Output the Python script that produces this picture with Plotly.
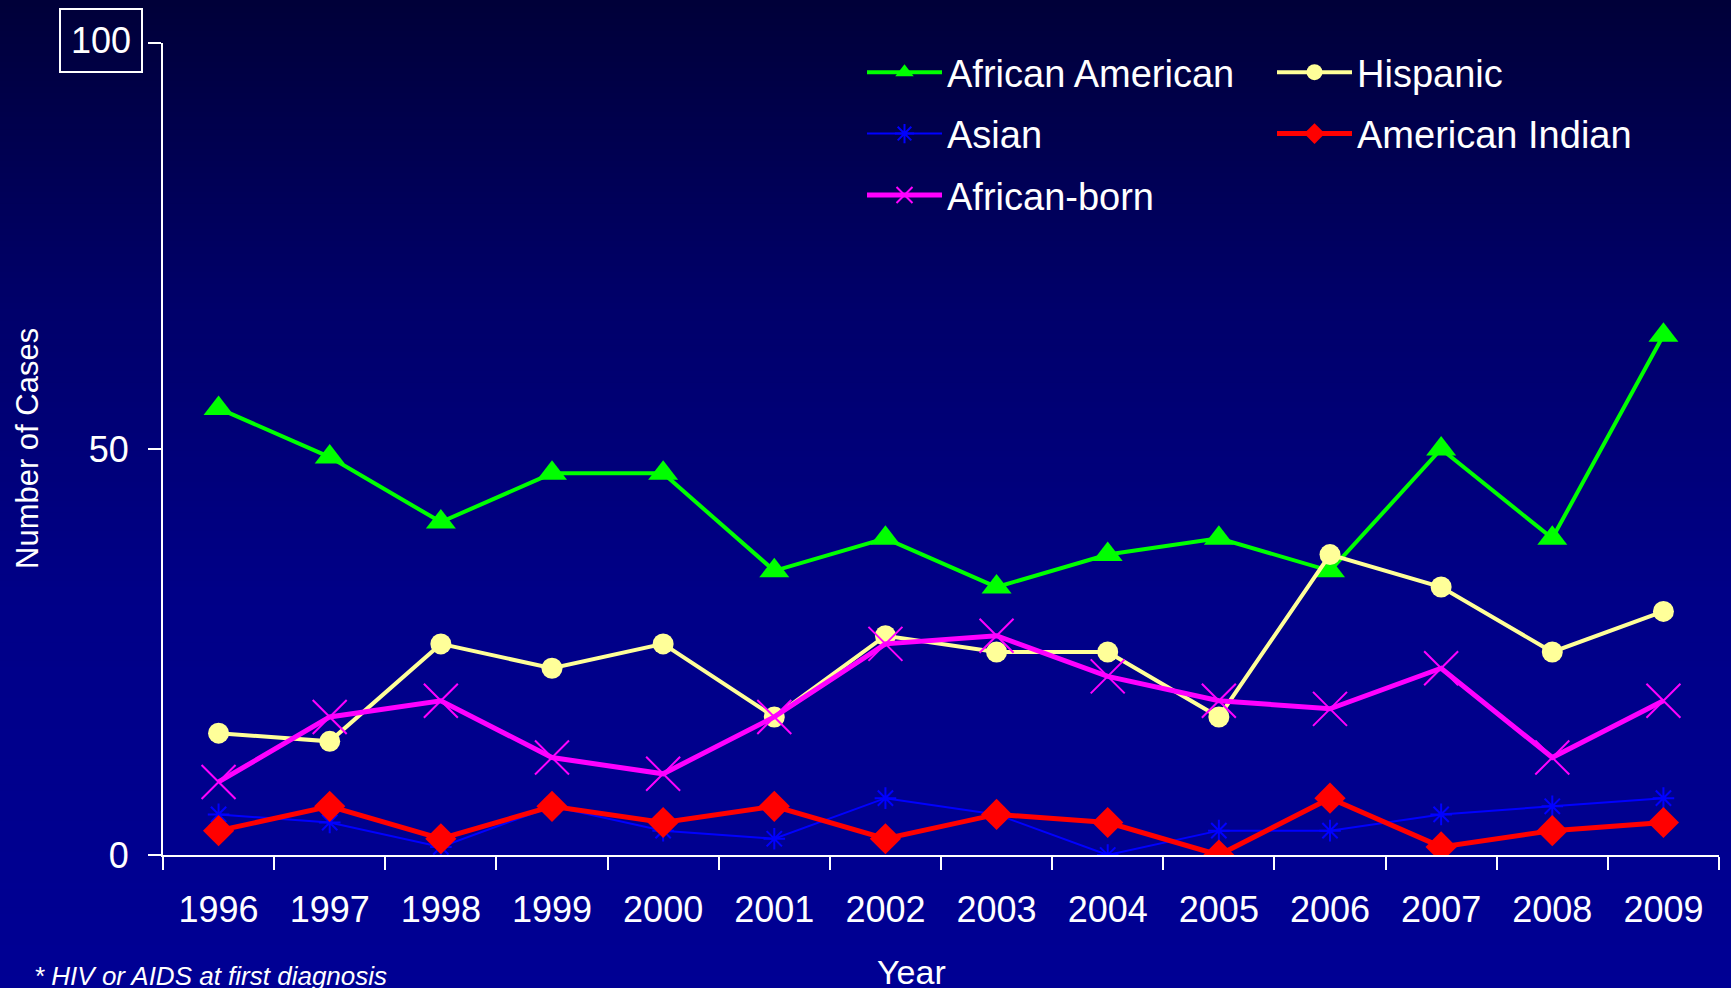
import plotly.graph_objects as go

# ---------------- data ----------------
years = [str(y) for y in range(1996, 2010)]
african_american = [55, 49, 41, 47, 47, 35, 39, 33, 37, 39, 35, 50, 39, 64]
hispanic = [15, 14, 26, 23, 26, 17, 27, 25, 25, 17, 37, 33, 25, 30]
asian = [5, 4, 1, 6, 3, 2, 7, 5, 0, 3, 3, 5, 6, 7]
american_indian = [3, 6, 2, 6, 4, 6, 2, 5, 4, 0, 7, 1, 3, 4]
african_born = [9, 17, 19, 12, 10, 17, 26, 27, 22, 19, 18, 23, 12, 19]
y_tick_vals = [0, 50, 100]
y_tick_text = ["0", "50", ""]
boxed_tick_value = 100
boxed_tick_text = "100"

# ---------------- layout constants ----------------
W, H = 1731, 988
ML, MR, MT, MB = 163, 12, 43, 133
PW, PH = W - ML - MR, H - MT - MB
FONT = "Liberation Sans Narrow, Arial Narrow, Liberation Sans, Arial, sans-serif"


def px_to_paper_x(px):
    return (px - ML) / PW


def px_to_paper_y(py):
    return (H - MB - py) / PH


fig = go.Figure()

series = [
    ("African American", african_american, "#00FF00", 4, "triangle-up", 26, "legend"),
    ("Hispanic", hispanic, "#FFFF99", 4, "circle", 21, "legend2"),
    ("Asian", asian, "#0000FF", 2, "asterisk-open", 18, "legend"),
    ("American Indian", american_indian, "#FF0000", 5, "diamond", 24, "legend2"),
    ("African-born", african_born, "#FF00FF", 5, "x-thin-open", 34, "legend"),
]

for name, vals, col, lw, sym, ms, leg in series:
    open_sym = sym.endswith("open")
    fig.add_trace(go.Scatter(
        x=years, y=vals, name=name, mode="lines+markers",
        line=dict(color=col, width=lw),
        marker=dict(symbol=sym, size=ms, color=col,
                    line=dict(color=col, width=2 if open_sym else 0)),
        legend=leg, legendgroup=name,
    ))

# ---------------- background gradient ----------------
stops = [(0.0, 56), (0.3, 105), (0.6, 135), (1.0, 148)]


def blue_at(t):
    for (t0, c0), (t1, c1) in zip(stops[:-1], stops[1:]):
        if t0 <= t <= t1:
            return c0 + (c1 - c0) * (t - t0) / (t1 - t0)
    return stops[-1][1]


shapes = []
NB = 160
for i in range(NB):
    top = H * i / NB
    bot = H * (i + 1) / NB + 1
    b = round(blue_at((i + 0.5) / NB))
    shapes.append(dict(
        type="rect", xref="paper", yref="paper",
        x0=px_to_paper_x(-5), x1=px_to_paper_x(W + 5),
        y0=px_to_paper_y(bot), y1=px_to_paper_y(top),
        fillcolor=f"rgb(0,0,{b})", line=dict(width=0), layer="below",
    ))

annotations = [
    dict(text=boxed_tick_text, x=0, xref="paper", xanchor="right", xshift=-20,
         y=boxed_tick_value, yref="y", yanchor="middle", yshift=3,
         showarrow=False, bordercolor="white", borderwidth=2, borderpad=10,
         font=dict(family=FONT, size=36, color="white")),
    dict(text="Number of Cases", textangle=-90, x=px_to_paper_x(27), xref="paper",
         xanchor="center", y=0.5, yref="paper", yanchor="middle", showarrow=False,
         font=dict(family=FONT, size=31, color="white")),
    dict(text="Year", x=px_to_paper_x(911), xref="paper", xanchor="center",
         y=px_to_paper_y(972), yref="paper", yanchor="middle", showarrow=False,
         font=dict(family=FONT, size=34, color="white")),
    dict(text="<i>* HIV or AIDS at first diagnosis</i>", x=px_to_paper_x(32), xref="paper",
         xanchor="left", y=px_to_paper_y(976), yref="paper", yanchor="middle",
         showarrow=False, font=dict(family=FONT, size=26, color="white")),
]

legend_common = dict(
    orientation="v", bgcolor="rgba(0,0,0,0)", borderwidth=0,
    font=dict(family=FONT, size=38, color="white"),
    xanchor="left", yanchor="top",
    tracegroupgap=9, itemwidth=75,
)

fig.update_layout(
    width=W, height=H,
    margin=dict(l=ML, r=MR, t=MT, b=MB, pad=0, autoexpand=False),
    paper_bgcolor="rgb(0,0,100)", plot_bgcolor="rgba(0,0,0,0)",
    font=dict(family=FONT, color="white"),
    shapes=shapes, annotations=annotations,
    showlegend=True,
    legend=dict(**legend_common, x=px_to_paper_x(862), y=px_to_paper_y(41)),
    legend2=dict(**legend_common, x=px_to_paper_x(1272), y=px_to_paper_y(41)),
    xaxis=dict(
        type="category", range=[-0.5, len(years) - 0.5], automargin=False,
        showgrid=False, zeroline=False,
        showline=True, linecolor="white", linewidth=2,
        ticks="outside", tickson="boundaries", ticklen=13, tickwidth=2, tickcolor="white",
        tickfont=dict(family=FONT, size=36, color="white"), tickangle=0,
        ticklabelstandoff=22,
    ),
    yaxis=dict(
        range=[0, 100], showgrid=False, zeroline=False, automargin=False,
        showline=True, linecolor="white", linewidth=2,
        tickmode="array", tickvals=y_tick_vals, ticktext=y_tick_text,
        ticks="outside", ticklen=13, tickwidth=2, tickcolor="white",
        tickfont=dict(family=FONT, size=36, color="white"),
        ticklabelstandoff=12,
    ),
)

fig.write_html(
    "out.html",
    config={"displayModeBar": False},
    post_script="document.body.style.margin='0';document.body.style.overflow='hidden';",
)
